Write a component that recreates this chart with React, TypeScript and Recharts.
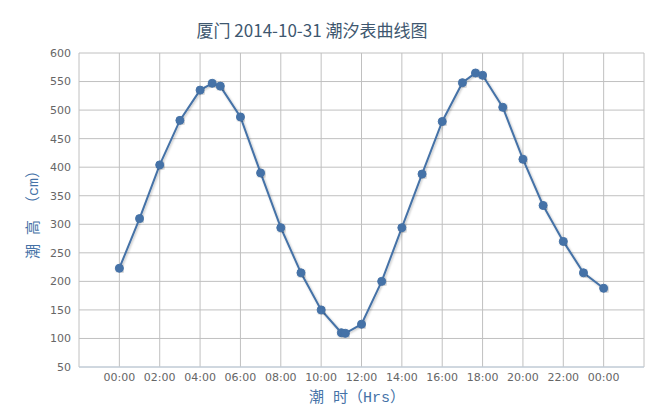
import React from 'react';
import { LineChart, Line, XAxis, YAxis, CartesianGrid } from 'recharts';

// tide times in hours from midnight, heights in cm
const hours = [0, 1, 2, 3, 4, 4.6, 5, 6, 7, 8, 9, 10, 11, 11.2, 12, 13, 14, 15, 16, 17, 17.65, 18, 19, 20, 21, 22, 23, 24];
const heights = [223, 310, 404, 482, 535, 547, 542, 488, 390, 294, 215, 150, 110, 109, 125, 200, 294, 388, 480, 548, 565, 561, 505, 414, 333, 270, 215, 188];
const xTicks = [-2, 0, 2, 4, 6, 8, 10, 12, 14, 16, 18, 20, 22, 24, 26];
const yTicks = [50, 100, 150, 200, 250, 300, 350, 400, 450, 500, 550, 600];

const TITLE = '厦门 2014-10-31 潮汐表曲线图';
const X_TITLE = '潮 时（Hrs）';
const Y_TITLE = '潮 高 （cm）';

const data = hours.map((h, i) => ({ h, v: heights[i] }));

const fmtHour = (v: number) => {
  if (v < 0 || v > 24) return '';
  const hh = v % 24;
  return `${hh < 10 ? '0' : ''}${hh}:00`;
};

const tickStyle = { fill: '#666666', fontSize: 11, fontFamily: '"DejaVu Sans", Verdana, sans-serif' };
const axisTitleFont = '"Liberation Mono", "Noto Sans CJK SC", monospace';

export default function App() {
  return (
    <div style={{ position: 'relative', width: 647, height: 413, background: '#fff' }}>
      <style>{'body{margin:0}'}</style>
      <div
        style={{
          position: 'absolute', left: 312, top: 20, transform: 'translateX(-50%)', whiteSpace: 'nowrap',
          fontSize: 17, color: '#3E576F', fontFamily: '"Noto Sans CJK SC", "DejaVu Sans", sans-serif', lineHeight: '20px',
        }}
      >
        {TITLE}
      </div>
      <LineChart width={647} height={413} data={data} margin={{ top: 53, right: 3, bottom: 0, left: 19 }}>
        <defs>
          <filter id="lineShadow" x="-5%" y="-5%" width="110%" height="110%">
            <feDropShadow dx="1" dy="1" stdDeviation="1" floodColor="#000" floodOpacity="0.25" />
          </filter>
        </defs>
        <CartesianGrid stroke="#C0C0C0" strokeWidth={1} />
        <XAxis
          dataKey="h"
          type="number"
          domain={[-2, 26]}
          ticks={xTicks}
          tickFormatter={fmtHour}
          interval={0}
          tick={tickStyle}
          tickLine={false}
          tickSize={0}
          tickMargin={6}
          height={46}
          axisLine={{ stroke: '#C0D0E0' }}
        />
        <YAxis
          type="number"
          domain={[50, 600]}
          ticks={yTicks}
          interval={0}
          tick={tickStyle}
          tickLine={false}
          tickSize={0}
          tickMargin={8}
          axisLine={false}
          width={60}
        />
        <Line
          dataKey="v"
          type="linear"
          stroke="#4572A7"
          strokeWidth={2}
          filter="url(#lineShadow)"
          dot={{ r: 4, fill: '#4572A7', stroke: '#4572A7', strokeWidth: 1 }}
          activeDot={false}
          isAnimationActive={false}
        />
      </LineChart>
      <div
        style={{
          position: 'absolute', left: 357, top: 389, transform: 'translateX(-50%)', whiteSpace: 'nowrap',
          fontSize: 15, color: '#4572A7', fontFamily: axisTitleFont, lineHeight: '20px',
        }}
      >
        {X_TITLE}
      </div>
      <div
        style={{
          position: 'absolute', left: 35, top: 211, transform: 'translate(-50%, -50%) rotate(-90deg)', whiteSpace: 'nowrap',
          fontSize: 15, color: '#4572A7', fontFamily: axisTitleFont, lineHeight: '18px',
        }}
      >
        {Y_TITLE}
      </div>
    </div>
  );
}
